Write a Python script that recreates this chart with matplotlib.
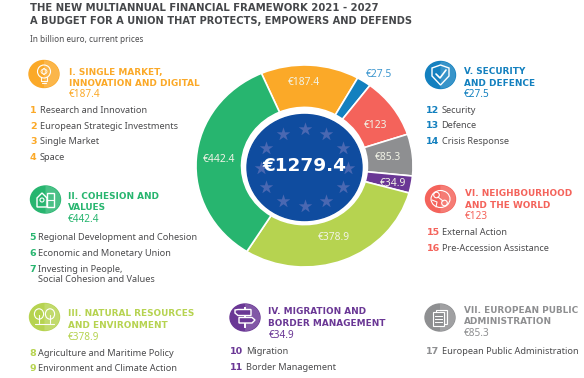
import matplotlib
matplotlib.use("Agg")
import matplotlib.pyplot as plt
import numpy as np
from matplotlib.patches import Ellipse, Polygon, Rectangle

plt.rcParams['font.family'] = ['Noto Sans', 'DejaVu Sans']

# ---- data ----
title_lines = ["THE NEW MULTIANNUAL FINANCIAL FRAMEWORK 2021 - 2027",
               "A BUDGET FOR A UNION THAT PROTECTS, EMPOWERS AND DEFENDS"]
subtitle = "In billion euro, current prices"
total_label = "€1279.4"
slice_names = ["I", "V", "VI", "VII", "IV", "III", "II"]
slice_values = [187.4, 27.5, 123, 85.3, 34.9, 378.9, 442.4]
slice_labels = ["€187.4", "€27.5", "€123", "€85.3", "€34.9", "€378.9", "€442.4"]
h1 = ["I. SINGLE MARKET,", "INNOVATION AND DIGITAL"]
h2 = ["II. COHESION AND", "VALUES"]
h3 = ["III. NATURAL RESOURCES", "AND ENVIRONMENT"]
h4 = ["IV. MIGRATION AND", "BORDER MANAGEMENT"]
h5 = ["V. SECURITY", "AND DEFENCE"]
h6 = ["VI. NEIGHBOURHOOD", "AND THE WORLD"]
h7 = ["VII. EUROPEAN PUBLIC", "ADMINISTRATION"]
items1 = [("1", "Research and Innovation"), ("2", "European Strategic Investments"),
          ("3", "Single Market"), ("4", "Space")]
items2 = [("5", "Regional Development and Cohesion"), ("6", "Economic and Monetary Union"),
          ("7", "Investing in People,"), ("", "Social Cohesion and Values")]
items3 = [("8", "Agriculture and Maritime Policy"), ("9", "Environment and Climate Action")]
items4 = [("10", "Migration"), ("11", "Border Management")]
items5 = [("12", "Security"), ("13", "Defence"), ("14", "Crisis Response")]
items6 = [("15", "External Action"), ("16", "Pre-Accession Assistance")]
items7 = [("17", "European Public Administration")]

# ---- styles ----
GOLD, BLUE, RED, GREY, PURPLE, LIME, GREEN = ("#FBA928", "#1380BF", "#F4635B", "#8E8F91",
                                              "#6A3795", "#B6D350", "#27B56F")
NAVY, STAR, DARK = "#0F4C9F", "#4A68B2", "#4B4B4D"
W, H = 584, 378
fig = plt.figure(figsize=(W / 100, H / 100), dpi=100, facecolor="white")

# ---- donut ----
cx, cy, rx, ry = 304.5, 166.0, 108.5, 101.0
ax = fig.add_axes([(cx - rx) / W, 1 - (cy + ry) / H, 2 * rx / W, 2 * ry / H])
colors = [GOLD, BLUE, RED, GREY, PURPLE, LIME, GREEN]
wedges, _ = ax.pie(slice_values, colors=colors, startangle=113.4, counterclock=False, radius=1,
                   wedgeprops=dict(width=0.42, edgecolor="white", linewidth=1.2))
ax.set_aspect("auto")
ax.set_xlim(-1, 1)
ax.set_ylim(-1, 1)
ax.axis("off")
radial = {"I": 0.83, "VI": 0.77, "VII": 0.77, "IV": 0.83, "III": 0.76, "II": 0.79}
shift = {"I": 0.06, "VI": -0.07, "IV": -0.02, "III": 0.0, "II": 0.0, "VII": 0.0}
for w, lab, name in zip(wedges, slice_labels, slice_names):
    a = np.deg2rad((w.theta1 + w.theta2) / 2)
    if name == "V":
        ax.text(1.14 * np.cos(a - 0.07), 1.14 * np.sin(a - 0.07), lab, color="#3E97CF", fontsize=7.4,
                ha="center", va="center")
        continue
    a += shift[name]
    ax.text(radial[name] * np.cos(a), radial[name] * np.sin(a), lab, color="#F1F3E6", fontsize=7.4,
            ha="center", va="center")
# the central disc sits slightly below the ring's centre in the reference
dy_disc = -1.5 / ry
ax.add_patch(Ellipse((0, dy_disc), 2 * 57.5 / rx, 2 * 53 / ry, color=NAVY, zorder=3))
n_stars = 12
ang = np.deg2rad(np.arange(n_stars) * 30)
ax.scatter(0.405 * np.cos(ang), dy_disc + 0.385 * np.sin(ang), marker="*", s=105, color=STAR,
           linewidths=0, zorder=4)
ax.text(0, dy_disc + 0.01, total_label, color="white", fontsize=13.2, fontweight="bold",
        family=["DejaVu Sans"], ha="center", va="center", zorder=5)

# ---- overlay in pixel coordinates ----
ov = fig.add_axes([0, 0, 1, 1], facecolor="none")
ov.set_xlim(0, W)
ov.set_ylim(H, 0)
ov.axis("off")


def T(x, y, s, size=6.6, color=DARK, **kw):
    kw.setdefault("va", "center")
    kw.setdefault("ha", "left")
    ov.text(x, y, s, fontsize=size, color=color, **kw)


T(30, 8, title_lines[0], 7.3, "#45474A", family=["DejaVu Sans"], fontweight="bold")
T(30, 21.5, title_lines[1], 7.15, "#45474A", family=["DejaVu Sans"], fontweight="bold")
T(30, 39, subtitle, 5.9)


def section(hx, hy, head, val, col, nx, tx, ys, items):
    T(hx, hy[0], head[0], 6.4, col, family=["DejaVu Sans"], fontweight="bold")
    T(hx, hy[1], head[1], 6.4, col, family=["DejaVu Sans"], fontweight="bold")
    T(hx, hy[2], val, 7.2, col)
    for y, (n, s) in zip(ys, items):
        if n:
            T(nx, y, n, 6.8, col, family=["DejaVu Sans"], fontweight="bold")
        T(tx, y, s, 6.6)


section(69, (72, 83, 94.5), h1, slice_labels[0], GOLD, 30, 39.5, (110.5, 126.5, 142, 158), items1)
section(68, (196.5, 207.5, 219), h2, slice_labels[6], GREEN, 29, 38.5, (237.5, 253.5, 269.5, 280), items2)
section(68, (313.5, 325, 337), h3, slice_labels[5], LIME, 29, 38.5, (353, 368.5), items3)
section(268.5, (312, 323.5, 335.5), h4, slice_labels[4], PURPLE, 230, 246, (351.5, 367), items4)
section(464, (71, 83, 94.5), h5, slice_labels[1], BLUE, 426, 441.5, (110.5, 126, 142), items5)
section(465, (193, 205, 216.5), h6, slice_labels[2], RED, 427, 442.5, (232.5, 248.5), items6)
section(464, (310.5, 322, 334), h7, slice_labels[3], GREY, 426, 441.5, (351.5,), items7)


# ---- icons ----
def badge(x, y, col, rx_=15, ry_=13.5):
    ov.add_patch(Ellipse((x, y), 2 * rx_, 2 * ry_, color=col, zorder=2))
    th = np.linspace(-np.pi / 2, np.pi / 2, 40)
    pts = np.c_[x + rx_ * np.cos(th), y + ry_ * np.sin(th)]
    ov.add_patch(Polygon(pts, closed=True, color="white", alpha=0.16, lw=0, zorder=3))


LW = dict(color="white", lw=0.8, zorder=4, solid_capstyle="round", alpha=0.95)


def ring(x, y, a, b, lw=0.8):
    ov.add_patch(Ellipse((x, y), 2 * a, 2 * b, fill=False, ec="white", lw=lw, zorder=4))


def poly(pts, lw=0.8):
    ov.add_patch(Polygon(pts, fill=False, ec="white", lw=lw, zorder=4))


# bulb
badge(44, 74, GOLD)
ring(44, 71.5, 6.5, 6.5)
ring(44, 71.5, 3, 2.5, lw=0.6)
ring(44, 71.5, 1.3, 3.2, lw=0.5)
ov.plot([41, 41, 47, 47], [77, 80.5, 80.5, 77], **LW)
ov.plot([42, 46], [83, 83], **LW)
# puzzle house and tree
badge(45.5, 199.5, GREEN)
poly([(37, 198), (42, 193), (47, 198), (47, 207), (37, 207)], lw=1.0)
ring(42, 200, 2, 2, lw=0.8)
poly([(47, 193), (54, 193), (54, 207), (47, 207)], lw=1.0)
ov.plot([47, 54], [200, 200], **LW)
# trees
badge(44.5, 317, LIME)
for dx in (-5.5, 5.5):
    ring(44.5 + dx, 314, 4.6, 5.2)
    ov.plot([44.5 + dx] * 2, [315, 323], **LW)
ov.plot([35, 54], [323.5, 323.5], **LW)
# signpost
badge(245, 317.5, PURPLE)
ov.plot([245, 245], [308, 327], color="white", lw=1.4, zorder=4)
ov.add_patch(Polygon([(235, 310), (238, 309.5), (251, 309.5), (251, 315.5), (238, 315.5), (235, 313)],
                     fc=PURPLE, ec="white", lw=1.0, zorder=5))
ov.add_patch(Polygon([(239, 317.5), (252, 317.5), (255, 320), (252, 323), (239, 323)],
                     fc=PURPLE, ec="white", lw=1.0, zorder=5))
# documents
badge(440, 317.5, GREY)
ov.add_patch(Rectangle((436, 309.5), 10.5, 14.5, fill=False, ec="white", lw=0.8, zorder=4))
ov.add_patch(Rectangle((433, 312), 10.5, 14, fc=GREY, ec="white", lw=0.8, zorder=5))
for yy in (316, 319, 322):
    ov.plot([435, 441.5], [yy, yy], color="white", lw=0.7, zorder=6)
# shield
badge(440.5, 75, BLUE)
poly([(432, 68), (440.5, 65), (449, 68), (449, 76), (440.5, 85), (432, 76)], lw=1.0)
ov.plot([436, 440, 446], [74, 78, 70], color="white", lw=1.2, zorder=4, solid_capstyle="round")
# world map
badge(440.5, 199, RED)
ring(440.5, 199, 9.5, 8.5)
ring(436.5, 195, 2.8, 2.8)
ring(444.5, 203, 2.8, 2.8)
ov.plot([438, 443], [197, 201], **LW)
ov.plot([432, 437, 436], [200, 202, 207], **LW)

fig.savefig("out.png", dpi=100, facecolor="white")
